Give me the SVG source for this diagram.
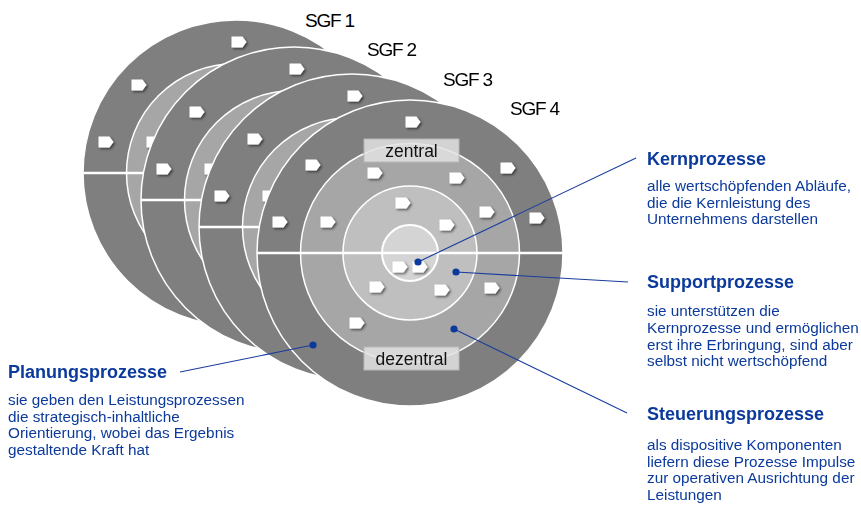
<svg xmlns="http://www.w3.org/2000/svg" xmlns:xlink="http://www.w3.org/1999/xlink" width="861" height="507" viewBox="0 0 861 507">
  <style>
    .ring-outer { fill: #7f7f7f; stroke: #ffffff; stroke-width: 1.5; }
    .ring-3 { fill: #a6a6a6; stroke: #ffffff; stroke-width: 1.5; }
    .ring-2 { fill: #bfbfbf; stroke: #ffffff; stroke-width: 1.5; }
    .ring-core { fill: #d4d4d4; stroke: #ffffff; stroke-width: 2; }
    .axis { stroke: #ffffff; stroke-width: 2.5; }
    .tag { fill: #ffffff; }
    .sgf { font-family: "Liberation Sans", Arial, sans-serif; font-size: 19px; letter-spacing: -1.2px; fill: #000000; }
    .box { fill: #e2e2e2; fill-opacity: 0.85; stroke: #b8b8b8; stroke-width: 1; }
    .box-text { font-family: "Liberation Sans", Arial, sans-serif; font-size: 17.5px; fill: #111111; text-anchor: middle; }
    .head { font-family: "Liberation Sans", Arial, sans-serif; font-size: 18px; font-weight: bold; fill: #0b3a9c; }
    .body { font-family: "Liberation Sans", Arial, sans-serif; font-size: 15.3px; fill: #0b3a9c; }
    .leader { stroke: #1a3d9e; stroke-width: 1.1; fill: none; }
    .dot { fill: #0b3a9c; }
  </style>
  <defs>
    <filter id="shadow" x="-50%" y="-50%" width="200%" height="200%">
      <feDropShadow dx="1.5" dy="1.5" stdDeviation="0.9" flood-color="#000000" flood-opacity="0.55"/>
    </filter>
    <!-- small process tag: a pentagon pointing right -->
    <path id="tag" class="tag" d="M-7.5,-5.5 H3.5 L7.5,0 L3.5,5.5 H-7.5 Z"/>
    <!-- one business unit disc, drawn around its own centre -->
    <g id="disc">
      <circle class="ring-outer" r="153"/>
      <circle class="ring-3" r="109.5"/>
      <circle class="ring-2" r="67"/>
      <circle class="ring-core" r="28"/>
      <line class="axis" x1="-153" y1="0" x2="153" y2="0"/>
      <g filter="url(#shadow)">
        <use xlink:href="#tag" x="3" y="-131"/>
        <use xlink:href="#tag" x="-97" y="-88"/>
        <use xlink:href="#tag" x="-35" y="-80"/>
        <use xlink:href="#tag" x="47" y="-75"/>
        <use xlink:href="#tag" x="98" y="-85"/>
        <use xlink:href="#tag" x="-7" y="-50"/>
        <use xlink:href="#tag" x="77" y="-41"/>
        <use xlink:href="#tag" x="127" y="-35"/>
        <use xlink:href="#tag" x="-130" y="-31"/>
        <use xlink:href="#tag" x="-82" y="-31"/>
        <use xlink:href="#tag" x="37" y="-28"/>
        <use xlink:href="#tag" x="-10" y="14"/>
        <use xlink:href="#tag" x="10" y="14"/>
        <use xlink:href="#tag" x="-33" y="34"/>
        <use xlink:href="#tag" x="32" y="37"/>
        <use xlink:href="#tag" x="82" y="35"/>
        <use xlink:href="#tag" x="-53" y="70"/>
      </g>
    </g>
  </defs>

  <rect width="861" height="507" fill="#ffffff"/>

  <!-- stacked discs, back to front -->
  <g id="sgf1">
    <use xlink:href="#disc" x="236" y="173"/>
    <text class="sgf" x="305" y="27">SGF 1</text>
  </g>
  <g id="sgf2">
    <use xlink:href="#disc" x="294" y="200"/>
    <text class="sgf" x="367" y="56">SGF 2</text>
  </g>
  <g id="sgf3">
    <use xlink:href="#disc" x="352" y="227"/>
    <text class="sgf" x="443" y="86">SGF 3</text>
  </g>
  <g id="sgf4">
    <use xlink:href="#disc" x="410" y="253"/>
    <text class="sgf" x="510" y="115">SGF 4</text>
  </g>

  <g id="zentral">
    <rect class="box" x="364" y="139" width="95" height="23"/>
    <text class="box-text" x="411.5" y="157">zentral</text>
  </g>
  <g id="dezentral">
    <rect class="box" x="364" y="347" width="95" height="23"/>
    <text class="box-text" x="411.5" y="365">dezentral</text>
  </g>

  <!-- leader lines from the rings to their descriptions -->
  <g id="connectors">
    <line class="leader" x1="418" y1="262" x2="636" y2="158"/>
    <circle class="dot" cx="418" cy="262" r="3.6"/>
    <line class="leader" x1="456" y1="272" x2="628" y2="282"/>
    <circle class="dot" cx="456" cy="272" r="3.6"/>
    <line class="leader" x1="454" y1="329" x2="627" y2="413"/>
    <circle class="dot" cx="454" cy="329" r="3.6"/>
    <line class="leader" x1="313" y1="345" x2="180" y2="372"/>
    <circle class="dot" cx="313" cy="345" r="3.6"/>
  </g>

  <g id="kernprozesse">
    <text class="head" x="647" y="165">Kernprozesse</text>
    <text class="body" x="647" y="191">alle wertschöpfenden Abläufe,</text>
    <text class="body" x="647" y="207.5">die die Kernleistung des</text>
    <text class="body" x="647" y="224">Unternehmens darstellen</text>
  </g>

  <g id="supportprozesse">
    <text class="head" x="647" y="288">Supportprozesse</text>
    <text class="body" x="647" y="316">sie unterstützen die</text>
    <text class="body" x="647" y="333">Kernprozesse und ermöglichen</text>
    <text class="body" x="647" y="349.5">erst ihre Erbringung, sind aber</text>
    <text class="body" x="647" y="366">selbst nicht wertschöpfend</text>
  </g>

  <g id="planungsprozesse">
    <text class="head" x="8" y="378">Planungsprozesse</text>
    <text class="body" x="8" y="405">sie geben den Leistungsprozessen</text>
    <text class="body" x="8" y="422">die strategisch-inhaltliche</text>
    <text class="body" x="8" y="438">Orientierung, wobei das Ergebnis</text>
    <text class="body" x="8" y="455">gestaltende Kraft hat</text>
  </g>

  <g id="steuerungsprozesse">
    <text class="head" x="647" y="420">Steuerungsprozesse</text>
    <text class="body" x="647" y="450">als dispositive Komponenten</text>
    <text class="body" x="647" y="466.5">liefern diese Prozesse Impulse</text>
    <text class="body" x="647" y="483">zur operativen Ausrichtung der</text>
    <text class="body" x="647" y="499.5">Leistungen</text>
  </g>
</svg>
